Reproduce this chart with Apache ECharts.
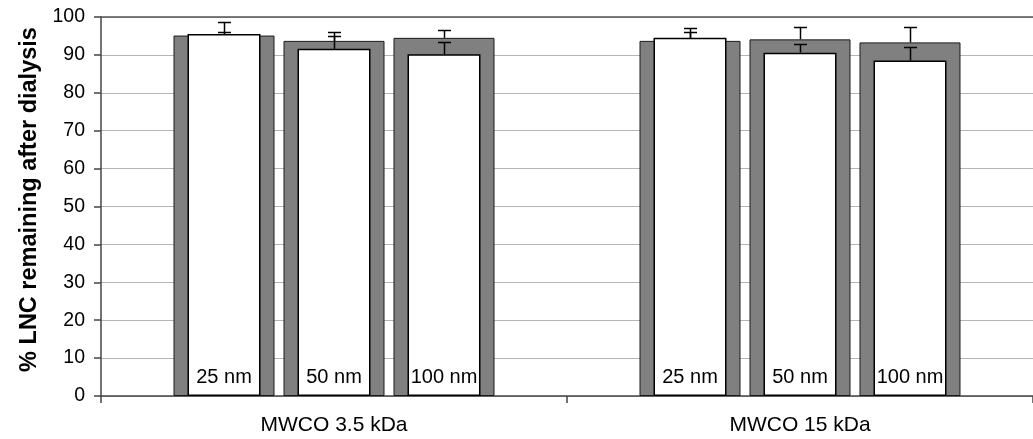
<!DOCTYPE html>
<html>
<head>
<meta charset="utf-8">
<script src="https://cdn.jsdelivr.net/npm/echarts@6/dist/echarts.min.js"></script>
<style>
  html, body { margin: 0; padding: 0; background: #fff; }
  #chart { width: 1033px; height: 439px; }
</style>
</head>
<body>
<div id="chart"></div>
<script>
// Membrane cut-offs (x categories) and liposome sizes (one bar pair per size)
const categories = ['MWCO 3.5 kDa', 'MWCO 15 kDa'];
const poreSizes = ['25 nm', '50 nm', '100 nm'];

// Outer (grey) bars: % remaining, per size, for each MWCO
const outer25nm = [95.1, 93.7];
const outer50nm = [93.7, 94.1];
const outer100nm = [94.5, 93.3];
const outerErr25nm = [3.6, 3.4];
const outerErr50nm = [2.4, 3.3];
const outerErr100nm = [2.1, 4.1];

// Inner (white) bars: % remaining, per size, for each MWCO
const inner25nm = [95.5, 94.5];
const inner50nm = [91.6, 90.6];
const inner100nm = [90.2, 88.5];
const innerErr25nm = [0.5, 1.5];
const innerErr50nm = [3.5, 2.4];
const innerErr100nm = [3.1, 3.6];

const yMin = 0, yMax = 100, yStep = 10;

const outerValues = [outer25nm, outer50nm, outer100nm];
const outerErrors = [outerErr25nm, outerErr50nm, outerErr100nm];
const innerValues = [inner25nm, inner50nm, inner100nm];
const innerErrors = [innerErr25nm, innerErr50nm, innerErr100nm];

// bar geometry (px)
const OUTER_W = 101;
const OUTER_GAP = 9;
const INNER_W = 73;
const PITCH = OUTER_W + OUTER_GAP;
const CAP = 13;
const FONT = '"Liberation Sans", Arial, Helvetica, sans-serif';

function errorData(values, errors) {
  const out = [];
  values.forEach((arr, slot) => {
    arr.forEach((v, ci) => out.push([ci, v, errors[slot][ci], slot]));
  });
  return out;
}

function renderError(params, api) {
  const ci = api.value(0), v = api.value(1), e = api.value(2), slot = api.value(3);
  const base = api.coord([ci, v]);
  const top = api.coord([ci, v + e]);
  const x = Math.round(base[0] + (slot - 1) * PITCH) + 0.5;
  const yTop = Math.round(top[1]) + 0.5;
  const style = { stroke: '#000', lineWidth: 1.5 };
  return {
    type: 'group',
    children: [
      { type: 'line', shape: { x1: x, y1: base[1], x2: x, y2: yTop }, style: style },
      { type: 'line', shape: { x1: x - CAP / 2, y1: yTop, x2: x + CAP / 2, y2: yTop }, style: style }
    ]
  };
}

const series = [];
outerValues.forEach((vals, i) => {
  series.push({
    name: poreSizes[i] + ' outer',
    type: 'bar',
    xAxisIndex: 0,
    data: vals,
    barWidth: OUTER_W,
    barGap: (OUTER_GAP / OUTER_W * 100).toFixed(2) + '%',
    itemStyle: { color: '#808080', borderColor: '#1a1a1a', borderWidth: 1 },
    z: 2,
    silent: true
  });
});
series.push({
  type: 'custom',
  xAxisIndex: 0,
  renderItem: renderError,
  data: errorData(outerValues, outerErrors),
  z: 3,
  silent: true
});
innerValues.forEach((vals, i) => {
  series.push({
    name: poreSizes[i],
    type: 'bar',
    xAxisIndex: 1,
    data: vals,
    barWidth: INNER_W,
    barGap: ((PITCH - INNER_W) / INNER_W * 100).toFixed(2) + '%',
    itemStyle: { color: '#ffffff', borderColor: '#000', borderWidth: 1.5 },
    label: {
      show: true,
      position: 'insideBottom',
      distance: 9,
      formatter: '{a}',
      color: '#000',
      fontSize: 20,
      fontFamily: FONT
    },
    z: 4,
    silent: true
  });
});
series.push({
  type: 'custom',
  xAxisIndex: 0,
  renderItem: renderError,
  data: errorData(innerValues, innerErrors),
  z: 5,
  silent: true
});

const chart = echarts.init(document.getElementById('chart'), null, { renderer: 'canvas' });
chart.setOption({
  animation: false,
  backgroundColor: '#fff',
  grid: { left: 101, top: 17, bottom: 43, right: -5, containLabel: false },
  xAxis: [
    {
      type: 'category',
      data: categories,
      position: 'bottom',
      axisLine: { lineStyle: { color: '#444', width: 1.5 } },
      axisTick: { show: true, length: 7, lineStyle: { color: '#444', width: 1.5 } },
      axisLabel: { color: '#000', fontSize: 21, fontFamily: FONT, margin: 19 },
      splitLine: { show: false }
    },
    {
      type: 'category',
      data: categories,
      position: 'top',
      axisLine: { show: true, lineStyle: { color: '#555', width: 1.5 } },
      axisTick: { show: false },
      axisLabel: { show: false },
      splitLine: { show: false }
    }
  ],
  yAxis: {
    type: 'value',
    min: yMin,
    max: yMax,
    interval: yStep,
    name: '% LNC remaining after dialysis',
    nameLocation: 'middle',
    nameGap: 55,
    nameTextStyle: {
      color: '#000',
      fontSize: 23.5,
      fontWeight: 'bold',
      fontFamily: FONT,
      padding: [0, 0, 0, 14]
    },
    axisLine: { show: true, lineStyle: { color: '#444', width: 1.5 } },
    axisTick: { show: true, length: 7, lineStyle: { color: '#444', width: 1.5 } },
    axisLabel: { color: '#000', fontSize: 19.5, fontFamily: FONT, margin: 16 },
    splitLine: { show: true, lineStyle: { color: '#b4b4b4', width: 1.2 } }
  },
  series: series
});
</script>
</body>
</html>
